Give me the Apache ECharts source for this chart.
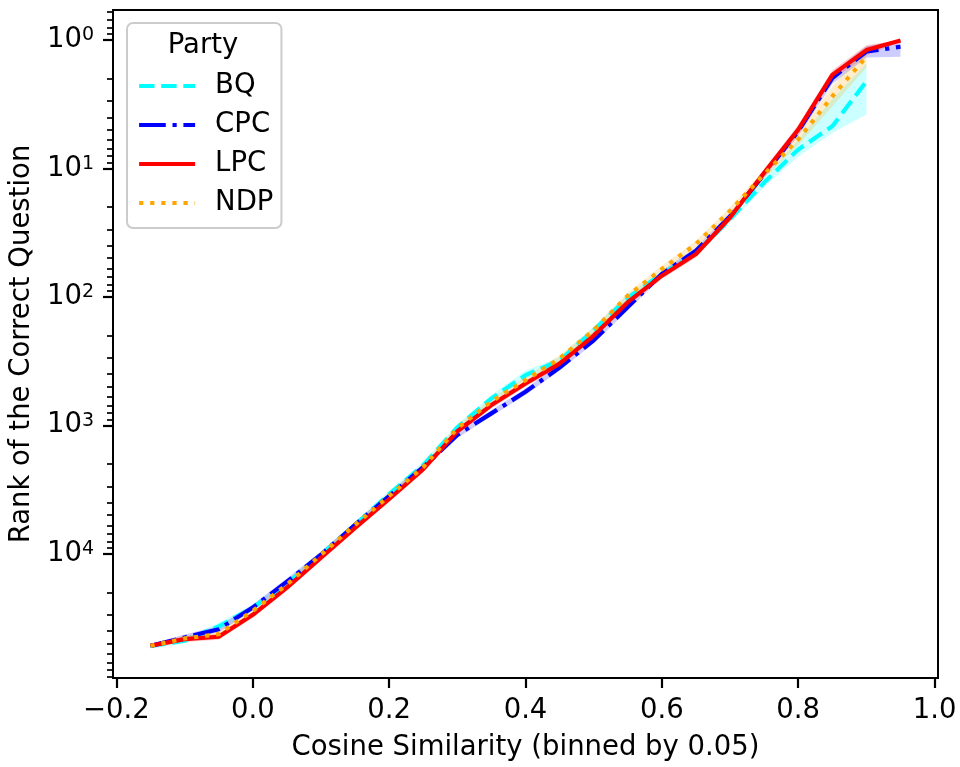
<!DOCTYPE html>
<html><head><meta charset="utf-8">
<script src="https://cdn.jsdelivr.net/npm/echarts@6/dist/echarts.min.js"></script>
<style>html,body{margin:0;padding:0;background:#fff}#c{width:960px;height:767px}</style>
</head><body><div id="c"></div>
<script>
// ---- data ----
const xs = [-0.15,-0.10,-0.05,0.00,0.05,0.10,0.15,0.20,0.25,0.30,0.35,0.40,0.45,0.50,0.55,0.60,0.65,0.70,0.75,0.80,0.85,0.90,0.95];

const bq     = [52130,47500,36800,26220,17090,10180,5960,3427,2042,1036,618,407,313,182,102,66.3,45.6,24.8,12.9,7.12,4.70,2.10];
const bqLow  = [50000,45000,34500,24800,16200,9620,5650,3250,1930,980,580,375,295,172,96,62.5,42.8,23.2,11.9,5.96,2.90,1.52];
const bqHigh = [54500,50000,39500,27800,18050,10750,6300,3620,2160,1100,660,440,333,193,108,70.5,48.6,26.6,14.0,8.07,5.30,3.81];

const cpc     = [52130,44800,38630,26220,16490,10180,5960,3551,2116,1189,807,548,355,218,120,66.3,43.8,23.6,11.1,5.14,1.98,1.23,1.13];
const cpcLow  = [50300,42500,36500,24800,15600,9620,5650,3370,2000,1125,765,518,336,206,113,62.5,41.2,22.2,10.4,4.75,1.80,1.12,1.00];
const cpcHigh = [54000,47200,40900,27700,17400,10750,6300,3750,2240,1255,850,580,375,230,127,70.5,46.6,25.1,11.9,5.60,2.20,1.37,1.35];

const lpc     = [52000,46150,44230,29870,18350,10740,6285,3746,2193,1113,696,473,331,200,110,68.4,46.4,24.1,10.8,4.99,1.87,1.20,1.01];
const lpcLow  = [50200,43800,42000,28300,17400,10150,5950,3550,2080,1055,660,448,313,189,104,64.5,43.6,22.7,10.1,4.60,1.72,1.10,1.00];
const lpcHigh = [53900,48600,46600,31500,19400,11350,6650,3950,2320,1175,735,500,350,212,116,72.5,49.4,25.6,11.6,5.40,2.05,1.32,1.03];

const ndp     = [52130,45600,42230,27810,17390,10180,5960,3551,2116,1055,652,445,302,182,98,60.7,38.8,21.4,11.1,5.96,2.75,1.35];
const ndpLow  = [50300,43300,40000,26300,16450,9620,5650,3370,2000,1000,617,421,285,172,92.5,57.2,36.5,20.1,10.3,5.40,2.30,1.15];
const ndpHigh = [54000,48000,44500,29400,18350,10750,6300,3750,2240,1115,690,470,320,193,104,64.4,41.2,22.8,12.0,6.60,3.30,1.65];

const xTicks = [-0.2,0.0,0.2,0.4,0.6,0.8,1.0];
const yTicks = [1,10,100,1000,10000];
const yMinorTicks = [0.6,0.7,0.8,0.9,2,3,4,5,6,7,8,9,20,30,40,50,60,70,80,90,200,300,400,500,600,700,800,900,2000,3000,4000,5000,6000,7000,8000,9000,20000,30000,40000,50000,60000,70000,80000,90000];

// ---- chart ----
const FONT = 'DejaVu Sans';
const FS = 27.5;
const chart = echarts.init(document.getElementById('c'), null, {renderer: 'canvas'});

function pairs(vals) { return vals.map((v, i) => [xs[i], v]); }

function band(name, color, low, high) {
  return {
    type: 'custom', name: name, coordinateSystem: 'cartesian2d',
    xAxisIndex: 0, yAxisIndex: 0, silent: true, z: 1, animation: false,
    data: [[xs[0], low[0]]],
    renderItem: function (params, api) {
      const pts = [];
      for (let i = 0; i < low.length; i++) pts.push(api.coord([xs[i], low[i]]));
      for (let i = high.length - 1; i >= 0; i--) pts.push(api.coord([xs[i], high[i]]));
      return {type: 'polygon', shape: {points: pts}, style: {fill: color, stroke: null}};
    }
  };
}

function line(name, color, vals, dash) {
  return {
    type: 'line', name: name, data: pairs(vals), symbol: 'none', z: 3,
    xAxisIndex: 0, yAxisIndex: 0, animation: false,
    lineStyle: {color: color, width: 4.2, type: dash, cap: 'butt', join: 'round'},
    itemStyle: {color: color}
  };
}

const yMin = Math.pow(10, -0.233), yMax = Math.pow(10, 4.967);

const option = {
  animation: false,
  backgroundColor: '#ffffff',
  grid: {left: 113, right: 22, top: 10, bottom: 86, show: true, borderColor: '#000', borderWidth: 2, backgroundColor: 'transparent'},
  xAxis: [{
    type: 'value', min: -0.205, max: 1.005,
    name: 'Cosine Similarity (binned by 0.05)', nameLocation: 'middle', nameGap: 56,
    nameTextStyle: {fontSize: FS, fontFamily: FONT, color: '#000', verticalAlign: 'top'},
    axisLine: {show: false, onZero: false},
    axisTick: {show: true, customValues: xTicks, length: 10, lineStyle: {color: '#000', width: 2.2}},
    axisLabel: {customValues: xTicks, margin: 19, fontSize: FS, fontFamily: FONT, color: '#000',
      formatter: v => (v < 0 ? '\u2212' : '') + Math.abs(v).toFixed(1)},
    splitLine: {show: false}
  }],
  yAxis: [{
    type: 'log', logBase: 10, inverse: true, min: yMin, max: yMax, position: 'left',
    name: 'Rank of the Correct Question', nameLocation: 'middle', nameGap: 77, nameRotate: 90,
    nameTextStyle: {fontSize: FS, fontFamily: FONT, color: '#000'},
    axisLine: {show: false, onZero: false},
    axisTick: {show: true, customValues: yTicks, length: 10, lineStyle: {color: '#000', width: 2.2}},
    axisLabel: {customValues: yTicks, margin: 19,
      formatter: v => '{b|10}{s|' + Math.round(Math.log10(v)) + '}',
      rich: {b: {fontSize: FS, fontFamily: FONT, color: '#000'},
             s: {fontSize: 19, fontFamily: FONT, color: '#000', verticalAlign: 'top'}}},
    splitLine: {show: false}, minorTick: {show: false}
  }, {
    type: 'log', logBase: 10, inverse: true, min: yMin, max: yMax, position: 'left',
    axisLine: {show: false, onZero: false},
    axisTick: {show: true, customValues: yMinorTicks, length: 6, lineStyle: {color: '#000', width: 1.7}},
    axisLabel: {show: false}, splitLine: {show: false}
  }],
  legend: {
    data: ['BQ', 'CPC', 'LPC', 'NDP'], orient: 'vertical', left: 127, top: 23,
    padding: [49, 8, 11, 10], itemGap: 11, itemWidth: 56, itemHeight: 14,
    backgroundColor: 'rgba(255,255,255,0.8)', borderColor: '#cccccc', borderWidth: 2, borderRadius: 6,
    textStyle: {fontSize: FS, fontFamily: FONT, color: '#000', padding: [0, 0, 0, 15]},
    itemStyle: {opacity: 0},
    lineStyle: {width: 4.2},
    selectedMode: false
  },
  graphic: [{
    type: 'text', x: 203, y: 46, z: 100,
    style: {text: 'Party', textAlign: 'center', textVerticalAlign: 'middle', fontSize: FS, fontFamily: FONT, fill: '#000'}
  }],
  series: [
    band('BQ band', 'rgba(0,255,255,0.2)', bqLow, bqHigh),
    band('CPC band', 'rgba(0,0,255,0.2)', cpcLow, cpcHigh),
    band('LPC band', 'rgba(255,0,0,0.2)', lpcLow, lpcHigh),
    band('NDP band', 'rgba(255,165,0,0.2)', ndpLow, ndpHigh),
    line('BQ', '#00ffff', bq, [15.4, 6.7]),
    line('CPC', '#0000ff', cpc, [26.7, 6.7, 4.2, 6.7]),
    line('LPC', '#ff0000', lpc, 'solid'),
    line('NDP', '#ffa500', ndp, [4.2, 6.9])
  ]
};
chart.setOption(option);
</script>
</body></html>
